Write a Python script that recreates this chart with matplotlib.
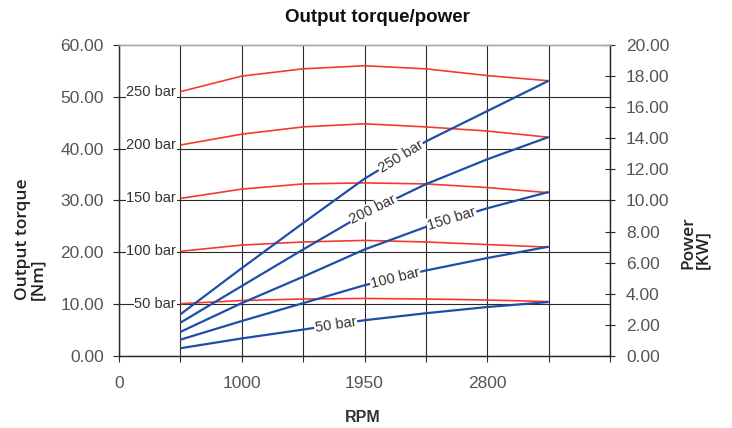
import numpy as np
import matplotlib
matplotlib.use("Agg")
import matplotlib.pyplot as plt

# ---- data -------------------------------------------------------------
rpm_labels = ["0", "1000", "1950", "2800"]
pressure_labels = ["50 bar", "100 bar", "150 bar", "200 bar", "250 bar"]

# output torque [Nm] at the seven operating speeds
torque_50 = [10.1, 10.7, 11.0, 11.1, 11.0, 10.8, 10.5]
torque_100 = [20.2, 21.4, 22.0, 22.3, 22.0, 21.5, 21.0]
torque_150 = [30.4, 32.2, 33.2, 33.4, 33.2, 32.5, 31.5]
torque_200 = [40.7, 42.8, 44.2, 44.8, 44.2, 43.4, 42.2]
torque_250 = [51.0, 54.0, 55.4, 56.0, 55.4, 54.1, 53.1]

# power [KW] at the same speeds
power_50 = [0.50, 1.13, 1.70, 2.30, 2.75, 3.15, 3.47]
power_100 = [1.05, 2.25, 3.40, 4.55, 5.50, 6.30, 7.03]
power_150 = [1.55, 3.40, 5.10, 6.85, 8.30, 9.50, 10.55]
power_200 = [2.14, 4.50, 6.85, 9.15, 11.05, 12.65, 14.08]
power_250 = [2.68, 5.65, 8.55, 11.40, 13.80, 15.75, 17.70]

torque_series = [torque_50, torque_100, torque_150, torque_200, torque_250]
power_series = [power_50, power_100, power_150, power_200, power_250]

# ---- styling ----------------------------------------------------------
RED = "#f43a30"
BLUE = "#1f4ea8"
GRID = "#2a2a2a"
TICK_TXT = "#555555"
LABEL_TXT = "#333333"
FONT = "Liberation Sans"

plt.rcParams["font.family"] = [FONT, "DejaVu Sans"]

fig = plt.figure(figsize=(7.32, 4.28), dpi=100)
ax = fig.add_axes([119 / 732, 1 - 356 / 428, (610 - 119) / 732, (356 - 45) / 428])
ax2 = ax.twinx()

# speed axis: evenly spaced grid, operating points on steps 1..7
n_steps = 8
xs = np.arange(1, 8)
ax.set_xlim(0, n_steps)
ax.set_xticks(np.arange(n_steps + 1))
xt = [""] * (n_steps + 1)
for i, lab in enumerate(rpm_labels):
    xt[2 * i] = lab
ax.set_xticklabels(xt)

ax.set_ylim(0, 60)
ax.set_yticks(np.arange(0, 61, 10))
ax.set_yticklabels([f"{v:.2f}" for v in np.arange(0, 61, 10)])
ax2.set_ylim(0, 20)
ax2.set_yticks(np.arange(0, 21, 2))
ax2.set_yticklabels([f"{v:.2f}" for v in np.arange(0, 21, 2)])

ax.set_axisbelow(True)
ax.grid(True, color=GRID, linewidth=0.8)
ax.yaxis.get_gridlines()[-1].set_visible(False)

for a in (ax, ax2):
    for side in ("left", "right", "bottom"):
        a.spines[side].set_color(GRID)
        a.spines[side].set_linewidth(0.9)
    a.spines["top"].set_color("#a8a8a8")
    a.spines["top"].set_linewidth(1.0)

ax.tick_params(axis="x", direction="out", length=4.5, width=0.8, color=GRID,
               pad=10, labelsize=12.5, labelcolor=TICK_TXT)
ax.tick_params(axis="y", direction="out", length=4.3, width=0.8, color=GRID,
               pad=6.5, labelsize=12.5, labelcolor=TICK_TXT)
ax2.tick_params(axis="y", direction="inout", length=7.2, width=0.8, color=GRID,
                pad=8, labelsize=12.5, labelcolor=TICK_TXT)

# torque curves with their pressure labels on the left
for vals, lab in zip(torque_series, pressure_labels):
    ax.plot(xs, vals, color=RED, linewidth=1.2, solid_capstyle="butt", zorder=3)
    ax.text(xs[0] - 0.07, vals[0], lab, ha="right", va="center", fontsize=10.5,
            color=LABEL_TXT, zorder=4,
            bbox=dict(facecolor="white", edgecolor="none", pad=0.3))

# power curves with inline labels
label_pos = [3.53, 4.50, 5.42, 4.14, 4.59]
for vals, lab, xp in zip(power_series, pressure_labels, label_pos):
    ax2.plot(xs, vals, color=BLUE, linewidth=1.6, solid_capstyle="butt", zorder=3)
    yp = np.interp(xp, xs, vals)
    i = int(np.searchsorted(xs, xp))
    p0 = ax2.transData.transform((xs[i - 1], vals[i - 1]))
    p1 = ax2.transData.transform((xs[i], vals[i]))
    ang = np.degrees(np.arctan2(p1[1] - p0[1], p1[0] - p0[0]))
    ax2.text(xp, yp, lab, rotation=ang, rotation_mode="anchor", ha="center",
             va="center", fontsize=10.5, color=LABEL_TXT, zorder=5,
             bbox=dict(facecolor="white", edgecolor="none", pad=0.6))

# titles and axis labels
fig.text(377.5 / 732, 1 - 17.5 / 428, "Output torque/power", ha="center",
         va="center", fontsize=13.5, fontweight="bold", color="#111111")
fig.text(363 / 732, 1 - 417 / 428, "RPM", ha="center", va="center",
         fontsize=11.5, fontweight="bold", color="#333333")
fig.text(31 / 732, 1 - 300 / 428, "Output torque\n[Nm]", rotation=90,
         ha="center", va="bottom", ma="left", fontsize=12.5, fontweight="semibold",
         family=["Open Sans", "DejaVu Sans"], color="#222222", linespacing=0.95)
fig.text(696 / 732, 1 - 269 / 428, "Power\n[KW]", rotation=90,
         ha="center", va="bottom", ma="left", fontsize=12.5, fontweight="semibold",
         family=["Open Sans", "DejaVu Sans"], color="#222222", linespacing=0.95)

fig.savefig("out.png", dpi=100, facecolor="white")
